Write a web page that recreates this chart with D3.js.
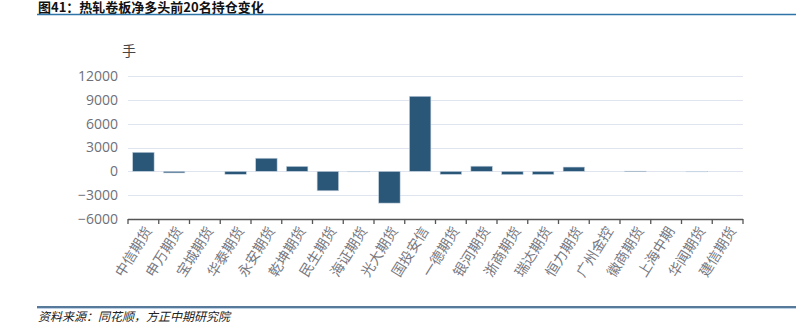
<!DOCTYPE html>
<html><head><meta charset="utf-8">
<script src="https://cdn.jsdelivr.net/npm/d3@7"></script>
<style>
body{margin:0;background:#fff;}
svg{display:block;}
</style></head>
<body><svg id="c" width="799" height="336"></svg>
<script>
const categories = ["中信期货","申万期货","宝城期货","华泰期货","永安期货","乾坤期货","民生期货","海证期货","光大期货","国投安信","一德期货","银河期货","浙商期货","瑞达期货","恒力期货","广州金控","徽商期货","上海中期","华闻期货","建信期货"];
const values = [2400,-200,0,-380,1650,630,-2450,-30,-4000,9450,-380,650,-420,-400,540,0,20,0,-30,0];
const yTicks = [-6000,-3000,0,3000,6000,9000,12000];
const titleText = "图41：热轧卷板净多头前20名持仓变化";
const sourceText = "资料来源：同花顺，方正中期研究院";
const unitText = "手";

const svg = d3.select("#c");
const font = "'Noto Sans CJK SC', 'Noto Sans', sans-serif";
const pLeft = 128, pRight = 743, pTop = 76, pBottom = 219;

// title
svg.append("text").attr("x",38).attr("y",12).attr("font-family",font).attr("font-weight","bold")
  .attr("font-size",13).attr("fill","#111").text(titleText);
svg.append("line").attr("x1",37).attr("x2",796).attr("y1",14.5).attr("y2",14.5)
  .attr("stroke","#2e74a6").attr("stroke-width",1.5);

const x = d3.scaleBand().domain(categories).range([pLeft,pRight]).paddingInner(0.3).paddingOuter(0.15);
const y = d3.scaleLinear().domain([-6000,12000]).range([pBottom,pTop]);

// grid
svg.append("g").selectAll("line").data(yTicks.filter(d=>d>-6000)).join("line")
  .attr("x1",pLeft).attr("x2",pRight).attr("y1",d=>Math.round(y(d))+0.5).attr("y2",d=>Math.round(y(d))+0.5)
  .attr("stroke","#dfe4ee").attr("stroke-width",1);

// y labels
svg.append("g").selectAll("text").data(yTicks).join("text")
  .attr("x",118).attr("y",d=>y(d)).attr("dy","0.35em").attr("text-anchor","end")
  .attr("font-family","'Open Sans', 'Noto Sans', sans-serif").attr("font-size",14).attr("fill","#6e7079")
  .text(d=>d<0? "\u2212"+Math.abs(d) : d);
svg.append("text").attr("x",122).attr("y",56).attr("font-family",font).attr("font-size",14)
  .attr("fill","#444").text(unitText);

// bars
svg.append("g").selectAll("rect").data(values.map((v,i)=>({c:categories[i],v})).filter(d=>d.v!==0)).join("rect")
  .attr("x",d=>x(d.c))
  .attr("width",x.bandwidth())
  .attr("y",d=>Math.min(y(d.v),y(0)))
  .attr("height",d=>Math.max(Math.abs(y(d.v)-y(0)),0.5))
  .attr("fill","#2a5677").attr("stroke","#c9d6e3").attr("stroke-width",0.6);

// x axis
const ax = svg.append("g").attr("transform",`translate(0,${pBottom})`);
ax.append("line").attr("x1",pLeft).attr("x2",pRight).attr("y1",0.5).attr("y2",0.5).attr("stroke","#555").attr("stroke-width",1.3);
const bounds = d3.range(categories.length+1).map(i=>pLeft + i*(pRight-pLeft)/categories.length);
ax.selectAll("line.tk").data(bounds).join("line").attr("class","tk")
  .attr("x1",d=>d).attr("x2",d=>d).attr("y1",0).attr("y2",5).attr("stroke","#555").attr("stroke-width",1.3);
ax.selectAll("text").data(categories).join("text")
  .attr("transform",d=>`translate(${x(d)+x.bandwidth()/2+5},${9}) rotate(-58)`)
  .attr("text-anchor","end").attr("dy","0.35em")
  .attr("font-family",font).attr("font-size",14).attr("fill","#77787f")
  .text(d=>d);

// footer
svg.append("line").attr("x1",37).attr("x2",796).attr("y1",307).attr("y2",307)
  .attr("stroke","#1f4e79").attr("stroke-width",1.5);
svg.append("line").attr("x1",37).attr("x2",796).attr("y1",308.5).attr("y2",308.5)
  .attr("stroke","#a9c4de").attr("stroke-width",0.8);
svg.append("text").attr("x",38).attr("y",321).attr("font-family",font).attr("font-style","italic")
  .attr("font-size",12).attr("fill","#222").text(sourceText);
</script></body></html>
